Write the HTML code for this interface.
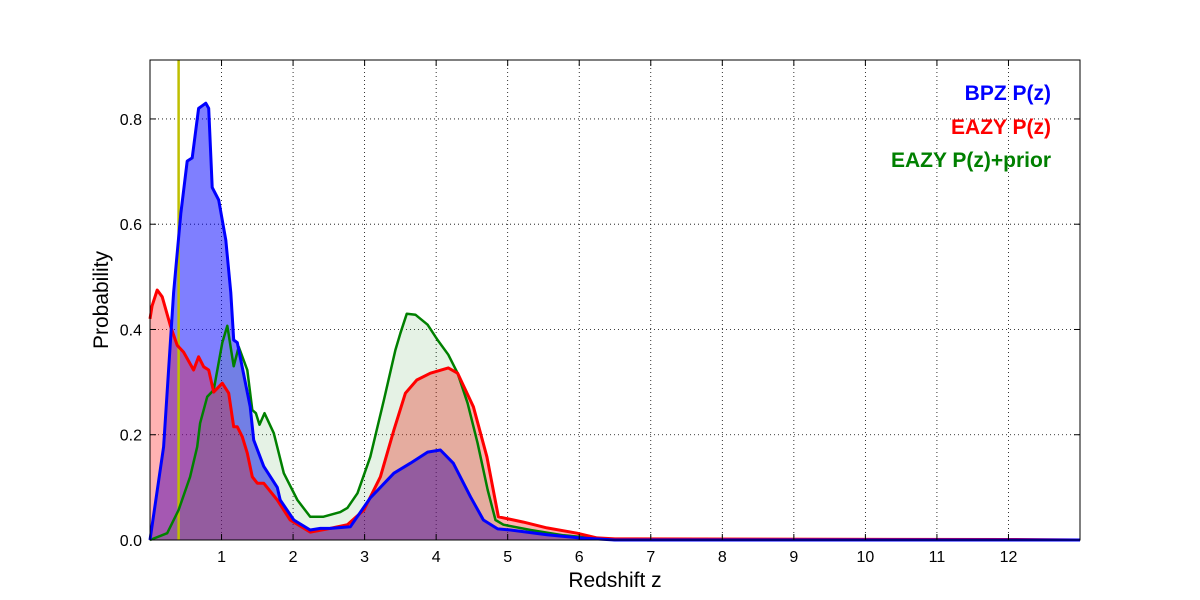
<!DOCTYPE html>
<html><head><meta charset="utf-8"><style>
html,body{margin:0;padding:0;background:#fff;}
svg{display:block;font-family:"Liberation Sans","DejaVu Sans",sans-serif;}
</style></head><body>
<svg id="chart" width="1200" height="600" viewBox="0 0 1200 600" xmlns="http://www.w3.org/2000/svg">
<g id="grid"></g>
<g id="fills"></g>
<line id="vline" stroke="#bfbf00" stroke-width="2.5"/>
<g id="lines"></g>
<rect x="150" y="60" width="930" height="480" fill="none" stroke="#000" stroke-width="1"/>
<g id="ticks"></g>
<text x="615" y="587" font-size="21" text-anchor="middle">Redshift z</text>
<text transform="translate(108,300) rotate(-90)" font-size="21" text-anchor="middle">Probability</text>
<g font-size="21" font-weight="bold" text-anchor="end">
<text x="1051" y="100" fill="#0000ff">BPZ P(z)</text>
<text x="1051" y="134" fill="#ff0000">EAZY P(z)</text>
<text x="1051" y="167" fill="#008000">EAZY P(z)+prior</text>
</g>
</svg>
<script>
const xTicks=[1,2,3,4,5,6,7,8,9,10,11,12];
const yTicks=[0.0,0.2,0.4,0.6,0.8];
const yTickLabels=["0.0","0.2","0.4","0.6","0.8"];
const zMarker=0.4;
const bpzZ=[0,0.19,0.33,0.43,0.52,0.59,0.68,0.73,0.78,0.82,0.87,0.96,1.06,1.13,1.17,1.22,1.40,1.45,1.59,1.78,1.82,2.01,2.24,2.38,2.52,2.80,3.08,3.41,3.64,3.88,4.06,4.24,4.48,4.66,4.86,5.04,5.55,6.0,6.5,13];
const bpzP=[0,0.177,0.47,0.62,0.72,0.726,0.82,0.825,0.83,0.82,0.67,0.646,0.57,0.47,0.38,0.375,0.253,0.19,0.14,0.1,0.076,0.038,0.019,0.022,0.022,0.025,0.08,0.127,0.146,0.167,0.171,0.146,0.082,0.038,0.021,0.019,0.01,0.004,0,0];
const eazyZ=[0,0.03,0.1,0.17,0.29,0.38,0.47,0.61,0.68,0.75,0.82,0.89,1.01,1.10,1.17,1.22,1.29,1.36,1.43,1.50,1.59,1.78,1.96,2.24,2.52,2.76,2.99,3.22,3.41,3.57,3.73,3.92,4.17,4.30,4.52,4.71,4.87,5.22,5.55,5.97,6.25,6.5,12,13];
const eazyP=[0.42,0.445,0.475,0.462,0.405,0.37,0.357,0.323,0.348,0.329,0.323,0.281,0.298,0.279,0.215,0.215,0.196,0.165,0.12,0.108,0.108,0.076,0.038,0.015,0.022,0.029,0.057,0.12,0.209,0.279,0.304,0.317,0.327,0.317,0.253,0.158,0.044,0.034,0.023,0.013,0.004,0.002,0.001,0];
const priorZ=[0,0.24,0.4,0.56,0.66,0.70,0.80,0.89,1.01,1.08,1.17,1.24,1.36,1.43,1.48,1.53,1.60,1.73,1.87,2.06,2.24,2.42,2.66,2.76,2.90,3.08,3.27,3.43,3.50,3.59,3.71,3.88,4.02,4.17,4.30,4.44,4.58,4.72,4.83,4.94,5.32,5.78,6.16,6.5,13];
const priorP=[0,0.013,0.057,0.12,0.177,0.222,0.272,0.285,0.375,0.407,0.33,0.367,0.323,0.247,0.241,0.219,0.241,0.203,0.127,0.076,0.044,0.044,0.053,0.061,0.089,0.158,0.266,0.361,0.393,0.43,0.428,0.409,0.38,0.352,0.317,0.26,0.184,0.095,0.038,0.029,0.019,0.009,0.004,0,0];

const X0=150,X1=1080,Y0=540,Y1=60,ZMAX=13,PMAX=0.912;
const sx=z=>X0+z/ZMAX*(X1-X0);
const sy=p=>Y0-p/PMAX*(Y0-Y1);
const NS="http://www.w3.org/2000/svg";
function mk(tag,parent,attrs){const e=document.createElementNS(NS,tag);for(const k in attrs)e.setAttribute(k,attrs[k]);parent.appendChild(e);return e;}
const grid=document.getElementById('grid'),ticks=document.getElementById('ticks');
xTicks.forEach(t=>{const x=sx(t);
 const g=mk('line',grid,{x1:x,x2:x,y1:Y1,y2:Y0,stroke:'#000','stroke-width':0.8,'stroke-dasharray':'1,3'});
 
 const a=mk('line',ticks,{x1:x,x2:x,y1:Y0,y2:Y0-6,stroke:'#000'});
 
 const b=mk('line',ticks,{x1:x,x2:x,y1:Y1,y2:Y1+6,stroke:'#000'});
 
 const l=mk('text',ticks,{x:x,y:Y0+22,'font-size':16,'text-anchor':'middle'});l.textContent=t;
 
});
yTicks.forEach((t,i)=>{const y=sy(t);
 if(i>0){const g=mk('line',grid,{x1:X0,x2:X1,y1:y,y2:y,stroke:'#000','stroke-width':0.8,'stroke-dasharray':'1,3'});
 }
 const a=mk('line',ticks,{x1:X0,x2:X0+6,y1:y,y2:y,stroke:'#000'});
 
 const b=mk('line',ticks,{x1:X1,x2:X1-6,y1:y,y2:y,stroke:'#000'});
 
 const l=mk('text',ticks,{x:X0-8,y:y+6,'font-size':16,'text-anchor':'end'});l.textContent=yTickLabels[i];
 
});
const vl=document.getElementById('vline');
vl.setAttribute('x1',sx(zMarker));vl.setAttribute('x2',sx(zMarker));vl.setAttribute('y1',Y1);vl.setAttribute('y2',Y0);
function pts(zs,ps){return zs.map((z,i)=>sx(z).toFixed(1)+','+sy(ps[i]).toFixed(1));}
const series=[
 {n:'bpz',z:bpzZ,p:bpzP,fill:'rgba(0,0,255,0.5)',stroke:'#0000ff',w:3},
 {n:'eazy',z:eazyZ,p:eazyP,fill:'rgba(255,0,0,0.3)',stroke:'#ff0000',w:3},
 {n:'eazy-prior',z:priorZ,p:priorP,fill:'rgba(0,128,0,0.1)',stroke:'#008000',w:2.5}
];
const fills=document.getElementById('fills'),lines=document.getElementById('lines');
series.forEach(s=>{
 const P=pts(s.z,s.p);
 const f=mk('path',fills,{d:'M'+sx(s.z[0])+','+Y0+' L'+P.join(' L')+' L'+sx(s.z[s.z.length-1])+','+Y0+' Z',fill:s.fill,stroke:'none'});
 
});
series.slice().reverse().forEach(s=>{
 const l=mk('polyline',lines,{points:pts(s.z,s.p).join(' '),fill:'none',stroke:s.stroke,'stroke-width':s.w,'stroke-linejoin':'round'});
 
});
</script>
</body></html>
